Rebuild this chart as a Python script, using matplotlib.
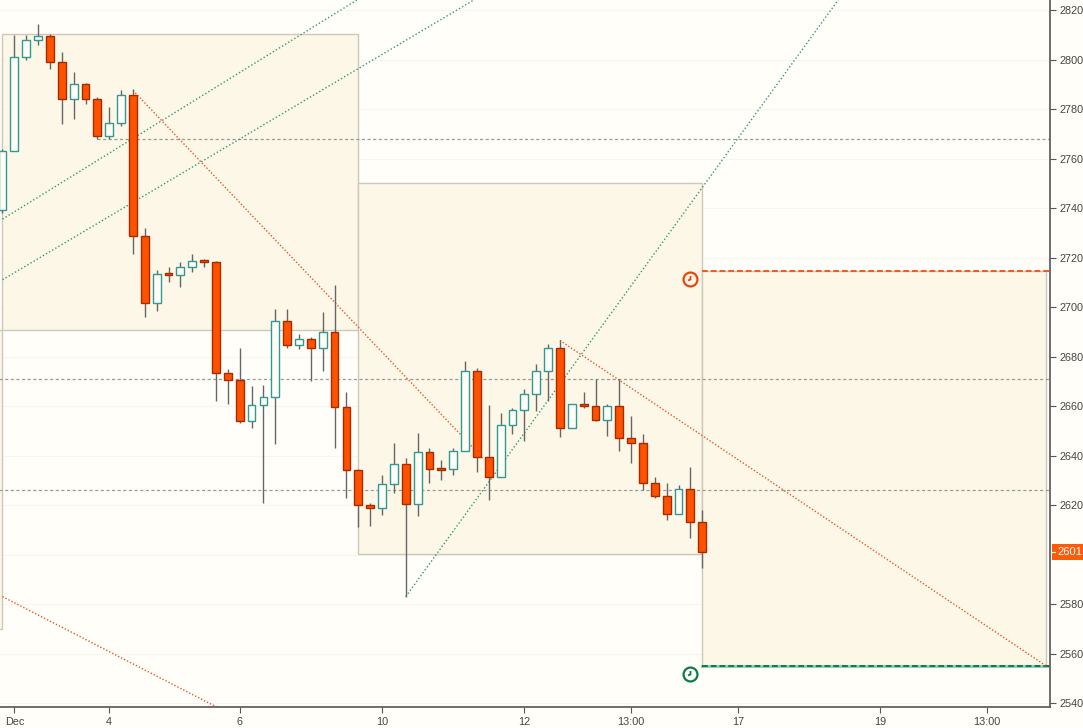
import numpy as np
import matplotlib
matplotlib.use("Agg")
import matplotlib.pyplot as plt
from matplotlib.patches import Rectangle

plt.rcParams['font.family'] = ['Liberation Sans', 'DejaVu Sans']

# candles (one per bar index)
opens = [2739, 2763, 2801, 2808, 2809.5, 2799, 2784, 2790, 2784, 2769,
         2774.5, 2785.5, 2728.5, 2701.5, 2713.5, 2713, 2716, 2719, 2718, 2673.5,
         2670.5, 2654, 2660.5, 2663.5, 2694.5, 2684.5, 2687, 2683.5, 2690, 2659.5,
         2634, 2620, 2619, 2628.5, 2636.5, 2620.5, 2641.5, 2635, 2634.5, 2642,
         2674, 2639.5, 2631.5, 2652.5, 2658.5, 2665, 2674, 2683.5, 2651, 2661,
         2660, 2654.5, 2660, 2647, 2645, 2629, 2623.5, 2616.5, 2626.5, 2613]
highs = [2764, 2810, 2810, 2814.5, 2810.5, 2803, 2795, 2790.5, 2785, 2781,
         2787.5, 2788, 2732, 2715, 2716, 2718, 2721.5, 2719.5, 2718.5, 2675,
         2683.5, 2668, 2668.5, 2699, 2699, 2689, 2688, 2698, 2709, 2665.5,
         2634.5, 2621, 2632, 2645, 2639, 2649, 2643, 2638, 2643, 2678,
         2675.5, 2660.5, 2657, 2659, 2667, 2677, 2685, 2686.5, 2661, 2665.5,
         2671, 2661, 2671, 2656, 2648.5, 2631.5, 2629, 2628, 2635.5, 2618]
lows = [2738, 2763, 2800, 2806, 2796, 2774, 2776, 2782, 2768, 2768,
        2773, 2721.5, 2696, 2698.5, 2710, 2708, 2714, 2716, 2662, 2661,
        2653, 2651, 2621, 2644.5, 2683.5, 2683, 2670, 2674, 2643, 2623,
        2611, 2611.5, 2616, 2625, 2583, 2615.5, 2629, 2630, 2632, 2642,
        2633.5, 2622, 2631.5, 2648.5, 2646, 2658, 2662, 2647.5, 2651, 2659,
        2654, 2648, 2642, 2637, 2626, 2623, 2614, 2616.5, 2606.5, 2594.5]
closes = [2763, 2801, 2808, 2809.5, 2799, 2784, 2790, 2784, 2769, 2774.5,
          2785.5, 2728.5, 2701.5, 2713.5, 2713, 2716, 2718.5, 2718, 2673.5, 2670.5,
          2654, 2660.5, 2663.5, 2694.5, 2684.5, 2687, 2683.5, 2690, 2659.5, 2634,
          2620, 2619, 2628.5, 2636.5, 2620.5, 2641.5, 2634.5, 2634, 2642, 2674,
          2639.5, 2631.5, 2652.5, 2658.5, 2665, 2674, 2683.5, 2651, 2661, 2660,
          2654.5, 2660, 2647, 2645, 2629, 2623.5, 2616.5, 2626.5, 2613, 2601]
last_price = 2601

# axis labels
xtick_pos = [1, 9, 20, 32, 44, 53, 62, 74, 83]
xtick_labels = ['Dec', '4', '6', '10', '12', '13:00', '17', '19', '13:00']
ytick_vals = [2540, 2560, 2580, 2620, 2640, 2660, 2680, 2700, 2720,
              2740, 2760, 2780, 2800, 2820]

# drawings: boxes (x0, x1, y0, y1)
boxes = [(-5, 0, 2570, 2690.7), (0, 30, 2690.7, 2810.3),
         (30, 59, 2600.2, 2750), (59, 88, 2555, 2714.5)]
green_lines = [((0, 2735.5), (40, 2854)), ((0, 2711), (45, 2839)),
               ((34, 2583), (71, 2827.6))]
red_lines = [((11, 2787.5), (40.5, 2639)), ((47, 2686.5), (88, 2555)),
             ((0, 2583), (20, 2533.6))]
level_lines = [(8, 2768), (-1, 2670.8), (-1, 2626)]
target_hi = 2714.5
target_lo = 2555
clock_pts = [(58, 2711.3, '#e8450e'), (58, 2551.6, '#0e7a4c')]

bg = '#fffef8'
fig = plt.figure(figsize=(10.83, 7.28), dpi=100, facecolor=bg)
ax = fig.add_axes([0, 21 / 728, 1050 / 1083, 707 / 728])
ax.set_facecolor(bg)
ax.set_xlim(-0.21, 88.32)
ax.set_ylim(2538.4, 2824.04)

for y in ytick_vals + [2600]:
    ax.axhline(y, color='#f7f5ee', lw=0.8, zorder=0)

for x0, x1, y0, y1 in boxes:
    ax.add_patch(Rectangle((x0, y0), x1 - x0, y1 - y0, facecolor='#fdf7e7',
                           edgecolor='#cfc8ba', lw=1, zorder=1))

for x0, y in level_lines:
    ax.plot([x0, 100], [y, y], color='#9a9a9a', lw=0.9, ls=(0, (2.5, 2)), zorder=2)

ax.plot([59, 100], [target_hi, target_hi], color='#f05a1e', lw=1.4, ls=(0, (3, 1.5)), zorder=2)
ax.plot([59, 100], [target_lo, target_lo], color='#8fd0b4', lw=2.2, zorder=2)
ax.plot([59, 100], [target_lo, target_lo], color='#0e7a4c', lw=1.4, ls=(0, (3, 1.5)), zorder=2)

for (xa, ya), (xb, yb) in green_lines:
    ax.plot([xa, xb], [ya, yb], color='#2f9a78', lw=1, ls=(0, (1, 1.6)), zorder=2)
for (xa, ya), (xb, yb) in red_lines:
    ax.plot([xa, xb], [ya, yb], color='#e8562a', lw=1, ls=(0, (1, 1.4)), zorder=2)

idx = np.arange(len(opens))
o = np.array(opens)
c = np.array(closes)
up = c >= o
ax.vlines(idx, lows, highs, color='#666666', lw=1, zorder=3)
bottoms = np.minimum(o, c)
heights = np.maximum(np.abs(c - o), 0.6)
ax.bar(idx[up], heights[up], bottom=bottoms[up], width=0.66,
       facecolor='#fffef6', edgecolor='#2f9993', lw=1, zorder=4)
ax.bar(idx[~up], heights[~up], bottom=bottoms[~up], width=0.66,
       facecolor='#ff5200', edgecolor='#a82a00', lw=1, zorder=4)

for x, y, col in clock_pts:
    ax.plot(x, y, marker='o', ms=10, mfc='none', mec=col, mew=1.6, zorder=6)
    ax.plot(x, y, marker=[(0, 0.55), (0, 0), (-0.4, -0.15)], ms=5, mfc='none',
            mec=col, mew=1.3, zorder=6)

ax.yaxis.tick_right()
ax.set_yticks(ytick_vals)
ax.set_yticklabels([str(v) for v in ytick_vals])
ax.set_xticks(xtick_pos)
ax.set_xticklabels(xtick_labels)
ax.tick_params(axis='both', colors='#555555', labelsize=7.8, length=4, width=0.8,
               labelcolor='#444444')
ax.tick_params(axis='x', pad=3)
ax.tick_params(axis='y', pad=3)
for s in ['top', 'left']:
    ax.spines[s].set_visible(False)
for s in ['bottom', 'right']:
    ax.spines[s].set_color('#555555')
    ax.spines[s].set_linewidth(1.2)

# last price tag on the price scale
ytr = ax.get_yaxis_transform()
ax.add_patch(Rectangle((1.0016, last_price - 3.3), 0.03, 6.6, transform=ytr,
                       facecolor='#ff5a0a', edgecolor='none', clip_on=False, zorder=9))
ax.plot([1.0016, 1.0045], [last_price, last_price], transform=ytr, color='white',
        lw=0.8, clip_on=False, zorder=10)
ax.text(1.0075, last_price, str(last_price), transform=ytr, ha='left', va='center',
        color='white', fontsize=8, zorder=10, clip_on=False)

fig.savefig('out.png', dpi=100, facecolor=bg)
